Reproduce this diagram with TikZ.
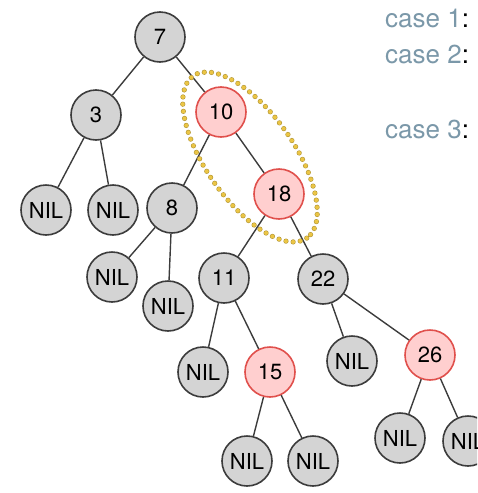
\documentclass[tikz,border=0pt]{standalone}
\usepackage{fontspec}
\setmainfont{TeX Gyre Heros}
\definecolor{nodegray}{HTML}{D4D4D4}
\definecolor{edgegray}{HTML}{3C3C3C}
\definecolor{redfill}{HTML}{FFCFCF}
\definecolor{redline}{HTML}{E0504C}
\definecolor{casegray}{HTML}{7B98A9}
\definecolor{dotyellow}{HTML}{EBC545}

\begin{document}
\begin{tikzpicture}[
        x=1pt,   % 1 unit = 1pt
        y=-1pt,  % rows go downwards
        blacknode/.style={circle, draw=edgegray, fill=nodegray, line width=1.6pt,
            minimum size=50pt, inner sep=0pt, font=\fontsize{22}{25}\selectfont},
        rednode/.style={blacknode, draw=redline, fill=redfill},
        edge/.style={draw=edgegray, line width=1.4pt},
        caselabel/.style={anchor=base west, inner sep=0pt, font=\fontsize{26}{30}\selectfont},
    ]

    \clip (0, 0) rectangle (477, 493);

    % Tree nodes
    \node[blacknode] (n7)  at (160, 37)  {7};
    \node[blacknode] (n3)  at (96, 115)  {3};
    \node[rednode]   (n10) at (221, 112) {10};
    \node[blacknode] (n8)  at (172, 208) {8};
    \node[rednode]   (n18) at (279, 194) {18};
    \node[blacknode] (n11) at (224, 278) {11};
    \node[blacknode] (n22) at (323, 279) {22};
    \node[rednode]   (n15) at (270, 372) {15};
    \node[rednode]   (n26) at (430, 355) {26};

    % NIL leaves
    \node[blacknode] (nil3l)  at (46, 210)  {NIL};
    \node[blacknode] (nil3r)  at (113, 210) {NIL};
    \node[blacknode] (nil8l)  at (112, 277) {NIL};
    \node[blacknode] (nil8r)  at (168, 306) {NIL};
    \node[blacknode] (nil11)  at (203, 372) {NIL};
    \node[blacknode] (nil15l) at (247, 461) {NIL};
    \node[blacknode] (nil15r) at (313, 461) {NIL};
    \node[blacknode] (nil22)  at (352, 361) {NIL};
    \node[blacknode] (nil26l) at (400, 438) {NIL};
    \node[blacknode] (nil26r) at (468, 441) {NIL};

    % Edges
    \draw[edge] (n7) -- (n3);
    \draw[edge] (n7) -- (n10);
    \draw[edge] (n3) -- (nil3l);
    \draw[edge] (n3) -- (nil3r);
    \draw[edge] (n10) -- (n8);
    \draw[edge] (n10) -- (n18);
    \draw[edge] (n8) -- (nil8l);
    \draw[edge] (n8) -- (nil8r);
    \draw[edge] (n18) -- (n11);
    \draw[edge] (n18) -- (n22);
    \draw[edge] (n11) -- (nil11);
    \draw[edge] (n11) -- (n15);
    \draw[edge] (n15) -- (nil15l);
    \draw[edge] (n15) -- (nil15r);
    \draw[edge] (n22) -- (nil22);
    \draw[edge] (n22) -- (n26);
    \draw[edge] (n26) -- (nil26l);
    \draw[edge] (n26) -- (nil26r);

    % Dotted ring round 10 and 18
    \coordinate (ring) at (250, 157);
    \draw[dotyellow!75!black, line width=5.2pt, line cap=round, dash pattern=on 0pt off 7.2pt,
        rotate around={-55:(ring)}] (ring) ellipse (99 and 44);
    \draw[dotyellow, line width=4pt, line cap=round, dash pattern=on 0pt off 7.2pt,
        rotate around={-55:(ring)}] (ring) ellipse (99 and 44);

    % Case labels
    \node[caselabel] (case1) at (385, 27)  {\textcolor{casegray}{case 1}:};
    \node[caselabel] (case2) at (385, 63)  {\textcolor{casegray}{case 2}:};
    \node[caselabel] (case3) at (385, 138) {\textcolor{casegray}{case 3}:};

\end{tikzpicture}
\end{document}
